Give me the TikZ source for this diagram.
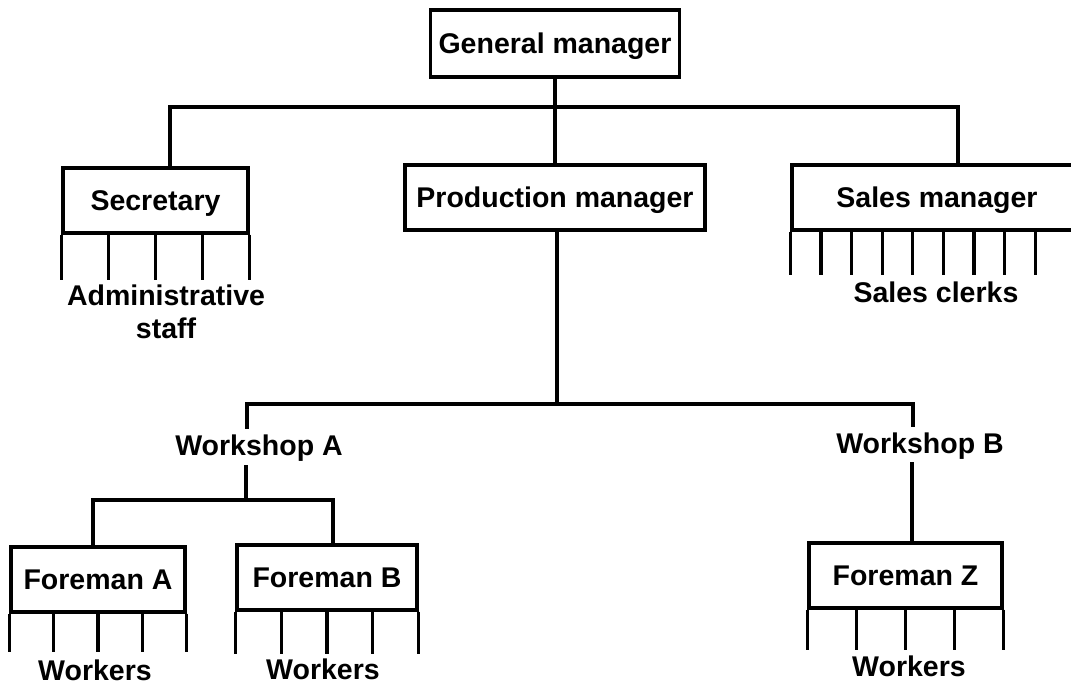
\documentclass[tikz,border=0pt]{standalone}
\usepackage{fontspec}
\setmainfont{Liberation Sans}
\usetikzlibrary{calc}
\begin{document}
\begin{tikzpicture}[x=1pt,y=-1pt,
  every node/.style={font=\bfseries\fontsize{28.5}{33}\selectfont, inner sep=0pt, text height=20.5pt, text depth=0pt},
  box/.style={draw, line width=3.2pt, minimum height=65pt},
  lbl/.style={},
  conn/.style={line width=3.2pt},
  tick/.style={line width=3.2pt}]
\useasboundingbox (0,0) rectangle (1071,687);
\clip (0,0) rectangle (1071,687);
% boxes
\node[box, minimum width=249pt, minimum height=67pt] (gm) at (555,43.5) {General manager};
\node[box, minimum width=300pt] (pm) at (555,197.5) {Production manager};
\node[box, minimum width=185pt] (sec) at (155.5,200.5) {Secretary};
\node[box, minimum width=290pt] (sales) at (937,197.5) {Sales manager};
\node[box, minimum width=174pt] (fa) at (98,579.5) {Foreman A};
\node[box, minimum width=180pt] (fb) at (327,577.5) {Foreman B};
\node[box, minimum width=193pt] (fz) at (905.5,575.5) {Foreman Z};
% labels
\node[lbl, align=center, text height={}, text depth={}, anchor=north] (adm) at (166,285) {Administrative\\staff};
\node[lbl] (clerks) at (936,292) {Sales clerks};
\node[lbl] (wsa) at (259,445) {Workshop A};
\node[lbl] (wsb) at (920,443) {Workshop B};
\node[lbl] (wa) at (95,670) {Workers};
\node[lbl] (wb) at (323,669) {Workers};
\node[lbl] (wz) at (909,666) {Workers};
% junctions
\coordinate (j1L) at (170,107);
\coordinate (j1R) at (958,107);
\coordinate (j2) at (557,404);
\coordinate (j2L) at (247,404);
\coordinate (j2R) at (913,404);
\coordinate (j3) at (246,500);
\coordinate (j3L) at (93,500);
\coordinate (j3R) at (333,500);
\coordinate (j4) at (912,500);
% connectors
\draw[conn] (gm.south) -- (pm.north);
\draw[conn] (sec.north -| j1L) -- (j1L) -- (j1R) -- (sales.north -| j1R);
\draw[conn] (pm.south -| j2) -- (j2);
\draw[conn] ($(wsa.north -| j2L)+(0,-6)$) -- (j2L) -- (j2R) -- ($(wsb.north -| j2R)+(0,-6)$);
\draw[conn] ($(wsa.south -| j3)+(0,10)$) -- (j3);
\draw[conn] (fa.north -| j3L) -- (j3L) -- (j3R) -- (fb.north -| j3R);
\draw[conn] ($(wsb.south -| j4)+(0,9)$) -- (fz.north -| j4);
% ticks
\foreach \i in {0,0.25,0.5,0.75,1}{
  \draw[tick] ($(sec.south west)!\i!(sec.south east)$) -- ++(0,45);
  \draw[tick] ($(fa.south west)!\i!(fa.south east)$) -- ++(0,38);
  \draw[tick] ($(fb.south west)!\i!(fb.south east)$) -- ++(0,42);
  \draw[tick] ($(fz.south west)!\i!(fz.south east)$) -- ++(0,40);
}
\foreach \i in {0,...,8}{
  \draw[tick] ($(sales.south west)+(30.6*\i,0)$) -- ++(0,43);
}
\end{tikzpicture}
\end{document}
